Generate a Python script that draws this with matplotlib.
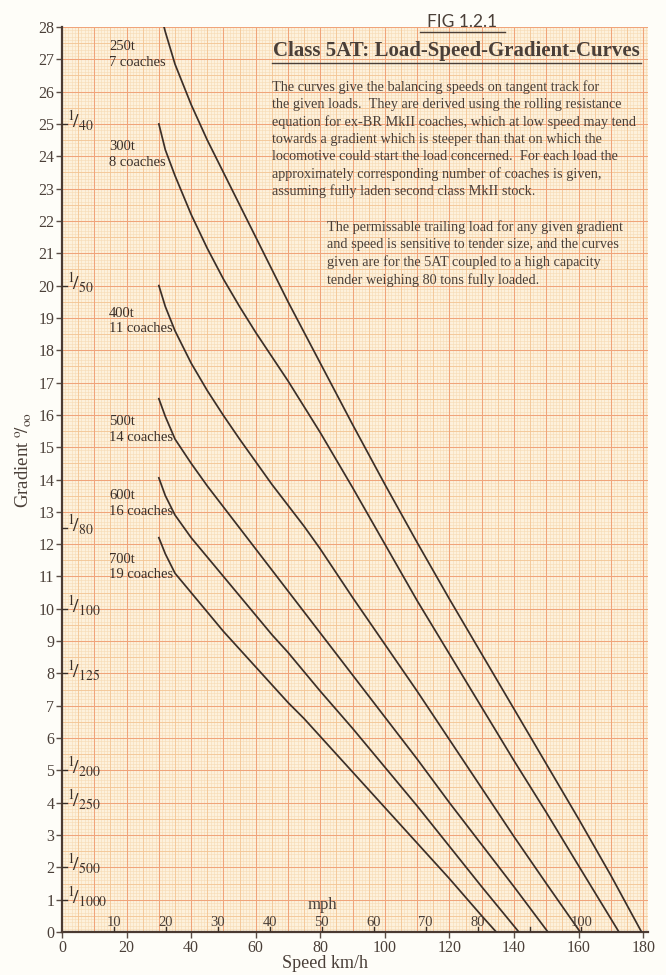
import numpy as np
import matplotlib.pyplot as plt
from matplotlib.lines import Line2D

plt.rcParams['font.family'] = ['Liberation Serif', 'DejaVu Serif']
plt.rcParams['mathtext.fontset'] = 'stix'

# balancing speed curves (speed km/h, gradient per mille)
speed_250 = [30, 32, 35, 40, 45, 50, 55, 60, 65, 70, 75, 80, 90, 100, 110, 120, 130, 140, 150, 160, 170, 179.5]
grad_250 = [28.6, 27.85, 26.85, 25.6, 24.5, 23.5, 22.5, 21.5, 20.5, 19.5, 18.55, 17.6, 15.7, 13.85, 12.05, 10.3, 8.6, 6.9, 5.2, 3.5, 1.75, 0]

speed_300 = [30, 32, 35, 40, 45, 50, 55, 60, 65, 70, 75, 80, 85, 90, 100, 110, 120, 130, 140, 150, 160, 172.5]
grad_300 = [25.0, 24.2, 23.4, 22.2, 21.15, 20.2, 19.35, 18.55, 17.8, 17.05, 16.25, 15.45, 14.6, 13.75, 12.0, 10.25, 8.6, 6.95, 5.3, 3.7, 2.05, 0]

speed_400 = [30, 32, 35, 40, 45, 50, 55, 60, 65, 70, 75, 80, 90, 100, 110, 120, 130, 140, 150, 160.5]
grad_400 = [20.0, 19.35, 18.6, 17.6, 16.75, 15.98, 15.25, 14.55, 13.85, 13.2, 12.55, 11.85, 10.35, 8.9, 7.45, 5.95, 4.45, 2.95, 1.5, 0]

speed_500 = [30, 32, 35, 40, 45, 50, 55, 60, 65, 70, 75, 80, 90, 100, 110, 120, 130, 140, 150.5]
grad_500 = [16.5, 15.95, 15.25, 14.5, 13.8, 13.15, 12.5, 11.85, 11.2, 10.55, 9.9, 9.25, 7.95, 6.65, 5.35, 4.0, 2.7, 1.4, 0]

speed_600 = [30, 32, 35, 40, 45, 50, 55, 60, 65, 70, 75, 80, 90, 100, 110, 120, 130, 141.5]
grad_600 = [14.05, 13.5, 12.9, 12.2, 11.6, 11.0, 10.4, 9.8, 9.2, 8.65, 8.05, 7.45, 6.3, 5.1, 3.9, 2.65, 1.4, 0]

speed_700 = [30, 32, 35, 40, 45, 50, 55, 60, 65, 70, 75, 80, 90, 100, 110, 120, 130, 134.5]
grad_700 = [12.2, 11.7, 11.1, 10.5, 9.9, 9.3, 8.75, 8.2, 7.65, 7.1, 6.6, 6.05, 4.95, 3.85, 2.75, 1.65, 0.5, 0]

load_labels = ['250t\n7 coaches', '300t\n8 coaches', '400t\n11 coaches',
               '500t\n14 coaches', '600t\n16 coaches', '700t\n19 coaches']
label_gradients = [27.15, 24.05, 18.9, 15.55, 13.25, 11.3]

gradient_ratio_pos = [25, 20, 12.5, 10, 8, 5, 4, 2, 1]
gradient_ratio_den = ['40', '50', '80', '100', '125', '200', '250', '500', '1000']

mph_values = [10, 20, 30, 40, 50, 60, 70, 80, 90, 100]
mph_labels = ['10', '20', '30', '40', '50', '60', '70', '80', '', '100']

note1 = ['The curves give the balancing speeds on tangent track for',
         'the given loads.  They are derived using the rolling resistance',
         'equation for ex-BR MkII coaches, which at low speed may tend',
         'towards a gradient which is steeper than that on which the',
         'locomotive could start the load concerned.  For each load the',
         'approximately corresponding number of coaches is given,',
         'assuming fully laden second class MkII stock.']
note2 = ['The permissable trailing load for any given gradient',
         'and speed is sensitive to tender size, and the curves',
         'given are for the 5AT coupled to a high capacity',
         'tender weighing 80 tons fully loaded.']

W, H = 666, 975
ink = '#3b2f28'
txt = '#4a3f38'
fig = plt.figure(figsize=(W / 100, H / 100), dpi=100, facecolor='#fefdf8')
ax = fig.add_axes([62 / W, 1 - 932 / H, (648 - 62) / W, (932 - 27) / H])
ax.set_facecolor('#fdf1dc')
xmax = 181.5
ax.set_xlim(0, xmax)
ax.set_ylim(0, 28)

# graph paper
ax.vlines(np.arange(0, xmax, 1), 0, 28, color='#f6dab4', lw=0.4, zorder=0)
ax.hlines(np.arange(0, 28, 0.1), 0, xmax, color='#f6dab4', lw=0.4, zorder=0)
ax.vlines(np.arange(5, xmax, 10), 0, 28, color='#f3c391', lw=0.55, zorder=0)
ax.hlines(np.arange(0.5, 28, 1), 0, xmax, color='#f3c391', lw=0.55, zorder=0)
ax.vlines(np.arange(10, xmax, 10), 0, 28, color='#f0a47a', lw=0.75, zorder=0)
ax.hlines(np.arange(1, 28.01, 1), 0, xmax, color='#f0a47a', lw=0.75, zorder=0)

curves = [(speed_250, grad_250), (speed_300, grad_300), (speed_400, grad_400),
          (speed_500, grad_500), (speed_600, grad_600), (speed_700, grad_700)]
for s, g in curves:
    ax.plot(s, g, color=ink, lw=1.25, zorder=3)

for lab, gy in zip(load_labels, label_gradients):
    ax.text(14.6, gy, lab, fontsize=10.5, color=ink, va='center', ha='left',
            linespacing=1.25, zorder=4)

for spine in ['top', 'right']:
    ax.spines[spine].set_visible(False)
for spine in ['left', 'bottom']:
    ax.spines[spine].set_color('#4a3a32')
    ax.spines[spine].set_linewidth(1.6)

ax.set_xticks(np.arange(0, 181, 20))
ax.set_yticks(np.arange(0, 29, 1))
ax.tick_params(axis='both', colors='#5a4d45', labelsize=11.5, length=4.5, width=1,
               labelcolor=txt, pad=1)

fig.text(325 / W, 1 - 963 / H, 'Speed km/h', fontsize=13, color=txt, ha='center', va='center')
fig.text(24 / W, 1 - 460 / H, r'Gradient $^{\rm o}\!/_{\rm oo}$', fontsize=13.5, color=txt,
         ha='center', va='center', rotation=90)

# gradient as ratio
for pos, den in zip(gradient_ratio_pos, gradient_ratio_den):
    ax.plot([0, 1.4], [pos, pos], color=ink, lw=1, clip_on=False, zorder=4)
    ax.text(1.6, pos + 0.1, r'$^{1}\!/_{' + den + '}$', fontsize=14, color=ink,
            va='center', ha='left', zorder=4)

# mph scale along the speed axis
for mph, lab in zip(mph_values, mph_labels):
    kmh = mph * 1.609
    ax.plot([kmh, kmh], [0, 0.14], color=ink, lw=1, zorder=4)
    ax.text(kmh, 0.1, lab, fontsize=10.5, color=txt, ha='center', va='bottom', zorder=4)
ax.text(80.6, 0.85, 'mph', fontsize=12, color=txt, ha='center', va='center', zorder=4)

# headings and notes
fig.text(462 / W, 1 - 22 / H, 'FIG 1.2.1', fontsize=12.5, family='Lato',
         color=txt, ha='center', va='center')
fig.add_artist(Line2D([420 / W, 505 / W], [1 - 32 / H, 1 - 32 / H], color=txt, lw=1))
fig.text(456 / W, 1 - 51 / H, 'Class 5AT: Load-Speed-Gradient-Curves', fontsize=15,
         weight='bold', color=txt, ha='center', va='center')
fig.add_artist(Line2D([272 / W, 641 / W], [1 - 63 / H, 1 - 63 / H], color=txt, lw=1))

for i, line in enumerate(note1):
    fig.text(272 / W, 1 - (87 + 17.4 * i) / H, line, fontsize=10.3, color=txt,
             ha='left', va='center')
for i, line in enumerate(note2):
    fig.text(327 / W, 1 - (227 + 17.6 * i) / H, line, fontsize=10.3, color=txt,
             ha='left', va='center')

fig.savefig('out.png', dpi=100, facecolor=fig.get_facecolor())
